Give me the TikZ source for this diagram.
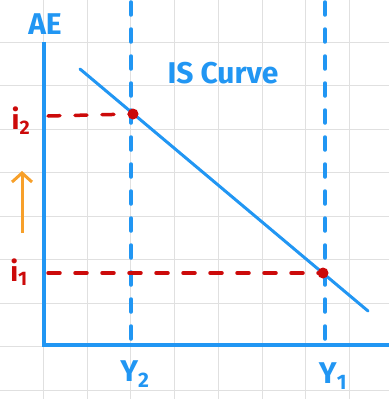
\documentclass[tikz,border=0pt]{standalone}
\usepackage{fontspec}
\setmainfont{Fira Sans}
\usepackage{tikz}
\usetikzlibrary{arrows.meta}
\definecolor{penblue}{HTML}{2196F3}
\definecolor{penred}{HTML}{CC0A0A}
\definecolor{penorange}{HTML}{F7A02A}
\tikzset{
  gridline/.style  = {black!12,line width=1pt},
  axisline/.style  = {penblue,line width=4pt},
  isline/.style    = {penblue,line width=3pt,line cap=round},
  yguide/.style    = {penblue,line width=3.5pt,line cap=round,dash pattern=on 13pt off 14pt},
  iguide/.style    = {penred,line width=3.5pt,line cap=round,dash pattern=on 12pt off 15pt},
  bigtext/.style   = {font=\fontsize{30}{30}\selectfont\bfseries,inner sep=0pt},
  subtext/.style   = {font=\fontsize{28}{28}\selectfont\bfseries,inner sep=0pt}
}

\begin{document}
\begin{tikzpicture}[x=1pt,y=-1pt]
  \useasboundingbox (0,0) rectangle (389,399);
  % grid paper
  \foreach \k in {0,...,7} {
    \draw[gridline] ({43.5+43.7*\k},0) -- ({43.5+43.7*\k},399);
  }
  \foreach \k in {0,...,8} {
    \draw[gridline] (0,{42+43.5*\k}) -- (389,{42+43.5*\k});
  }
  % axes
  \coordinate (ytop) at (44,42);
  \coordinate (orig) at (44,345);
  \coordinate (xend) at (389,345);
  \draw[axisline] (ytop) -- (orig) -- (xend);
  \node[bigtext,penblue] (ae) at (45,24) {AE};
  % output guides
  \coordinate (ytwotop) at (131,2);
  \coordinate (ytwobot) at (131,345);
  \coordinate (yonetop) at (325,2);
  \coordinate (yonebot) at (325,345);
  \draw[yguide] (ytwotop) -- (ytwobot);
  \draw[yguide] (yonetop) -- (yonebot);
  % IS curve
  \coordinate (isa) at (80,69);
  \coordinate (isb) at (368,311);
  \draw[isline] (isa) -- (isb);
  \node[bigtext,penblue] (islabel) at (223,73) {IS Curve};
  % equilibria
  \coordinate (etwo) at (133,114);
  \coordinate (eone) at (323,273);
  \coordinate (itwoax) at (48,116);
  \coordinate (ioneax) at (48,273);
  \draw[iguide] (itwoax) -- (etwo);
  \draw[iguide] (ioneax) -- (eone);
  \fill[penred] (etwo) circle (5.5);
  \fill[penred] (eone) circle (5.5);
  % labels
  \node[subtext,penred] (itwo) at (21,121) {i\textsubscript{2}};
  \node[subtext,penred] (ione) at (19,272) {i\textsubscript{1}};
  \node[bigtext,penblue] (ytwo) at (135,374) {Y\textsubscript{2}};
  \node[bigtext,penblue] (yone) at (333,376) {Y\textsubscript{1}};
  % rise in interest rate
  \coordinate (arrlo) at (22,233);
  \coordinate (arrhi) at (22,171);
  \draw[penorange,line width=3pt,-{Straight Barb[length=9pt,width=20pt]}] (arrlo) -- (arrhi);
\end{tikzpicture}
\end{document}
